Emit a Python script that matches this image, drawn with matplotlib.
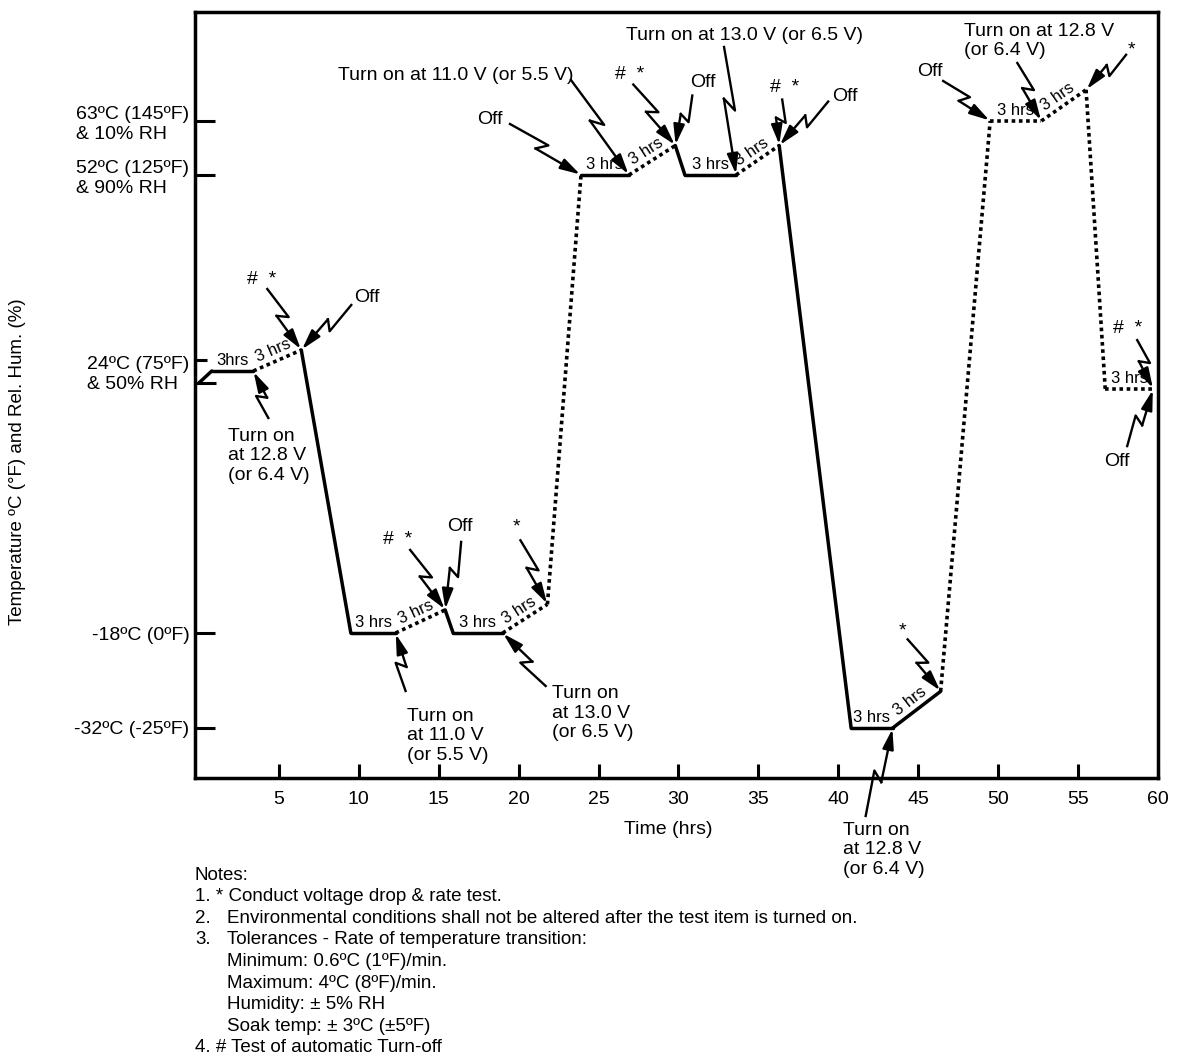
import numpy as np
import matplotlib
import matplotlib.pyplot as plt
from matplotlib.lines import Line2D
from matplotlib.transforms import IdentityTransform

plt.rcParams['font.family'] = ['Liberation Sans', 'DejaVu Sans']
plt.rcParams['font.size'] = 14

# test profile: time (hrs) and temperature (degC) at each corner
time_hrs = [0.0, 0.8, 3.4, 6.4, 9.5, 12.3, 15.4, 15.9, 19.0, 21.8, 23.9, 26.9,
            29.8, 30.4, 33.6, 36.3, 40.8, 43.4, 46.4, 49.5, 52.7, 55.5, 56.7, 59.7]
temp_c = [22.1, 24, 24, 27, -18, -18, -14.3, -18, -18, -13.4, 52, 52,
          58, 52, 52, 58, -32, -32, -26.6, 63, 63, 69.3, 21.1, 21.1]
# 1 = dotted (power off / transition), 0 = solid
seg_dotted = [0, 0, 1, 0, 0, 1, 0, 0, 1, 1, 0, 1, 0, 0, 1, 0, 0, 0, 1, 1, 1, 1, 1]
seg_label = ['', '3hrs', '3 hrs', '', '3 hrs', '3 hrs', '', '3 hrs', '3 hrs', '',
             '3 hrs', '3 hrs', '', '3 hrs', '3 hrs', '', '3 hrs', '3 hrs', '',
             '3 hrs', '3 hrs', '', '3 hrs']

level_temps = [-32, -18, 24, 52, 63]
level_labels = ['-32ºC (-25ºF)', '-18ºC (0ºF)', '24ºC (75ºF)\n& 50% RH',
                '52ºC (125ºF)\n& 90% RH', '63ºC (145ºF)\n& 10% RH']
x_ticks = [5, 10, 15, 20, 25, 30, 35, 40, 45, 50, 55, 60]

# callouts: vertex, text, text offset (px), bolt start offset (px), alignment
callouts = [
    (3, '#  *', (-40, 71), (-34, 61), 'center'),
    (3, 'Off', (66, 53), (50, 45), 'center'),
    (2, 'Turn on\nat 12.8 V\n(or 6.4 V)', (-25, -85), (15, -47), 'left'),
    (6, '#  *', (-48, 70), (-35, 60), 'center'),
    (6, 'Off', (15, 83), (16, 68), 'center'),
    (5, 'Turn on\nat 11.0 V\n(or 5.5 V)', (11, -103), (10, -58), 'left'),
    (9, '*', (-31, 77), (-27, 64), 'center'),
    (8, 'Turn on\nat 13.0 V\n(or 6.5 V)', (49, -80), (43, -53), 'left'),
    (10, 'Off', (-91, 55), (-71, 51), 'center'),
    (11, 'Turn on at 11.0 V (or 5.5 V)', (-55, 100), (-58, 95), 'right'),
    (12, '#  *', (-46, 71), (-42, 61), 'center'),
    (12, 'Off', (28, 63), (17, 50), 'center'),
    (14, 'Turn on at 13.0 V (or 6.5 V)', (8, 140), (-12, 128), 'center'),
    (15, '#  *', (5, 58), (3, 46), 'center'),
    (15, 'Off', (66, 49), (49, 44), 'center'),
    (18, '*', (-38, 60), (-33, 52), 'center'),
    (17, 'Turn on\nat 12.8 V\n(or 6.4 V)', (-50, -122), (-27, -88), 'left'),
    (19, 'Off', (-60, 49), (-47, 40), 'center'),
    (20, 'Turn on at 12.8 V\n(or 6.4 V)', (-77, 80), (-24, 58), 'left'),
    (21, '*', (45, 40), (40, 35), 'center'),
    (23, '#  *', (-26, 61), (-16, 49), 'center'),
    (23, 'Off', (-36, -72), (-26, -57), 'center'),
]

notes_num = ['Notes:', '1. * Conduct voltage drop & rate test.', '2.', '3.', '', '', '', '',
             '4. # Test of automatic Turn-off']
notes_body = ['', '', 'Environmental conditions shall not be altered after the test item is turned on.',
              'Tolerances - Rate of temperature transition:', 'Minimum: 0.6ºC (1ºF)/min.',
              'Maximum: 4ºC (8ºF)/min.', 'Humidity: ± 5% RH', 'Soak temp: ± 3ºC (±5ºF)', '']

W, H = 1178, 1061
fig = plt.figure(figsize=(W / 100, H / 100), dpi=100)
ax = fig.add_axes([195 / W, 1 - 778 / H, (1158 - 195) / W, (778 - 12) / H])

# the y axis of the drawing is schematic, not linear in temperature
anch_t = [-39.4, -32, -18, 24, 52, 63, 85]
anch_p = [283, 333, 428, 690, 886, 940, 1049]


def fwd(v):
    return np.interp(v, anch_t, anch_p)


def inv(p):
    return np.interp(p, anch_p, anch_t)


ax.set_yscale('function', functions=(fwd, inv))
ax.set_xlim(-0.25, 59.86)
ax.set_ylim(-39.4, 85)

for s in ax.spines.values():
    s.set_linewidth(2.5)

ax.set_xticks(x_ticks)
ax.tick_params(axis='x', direction='in', length=10, width=2.2, pad=9, labelsize=14)
ax.set_yticks(level_temps, level_labels, multialignment='left')
ax.tick_params(axis='y', which='major', direction='in', length=14.5, width=2.2, pad=4, labelsize=14)
ax.yaxis.get_major_ticks()[2].tick1line.set_visible(False)
ax.set_yticks([22.1, 25.6], minor=True)
ax.tick_params(axis='y', which='minor', direction='in', length=15, width=2.2)
mt = ax.yaxis.get_minor_ticks()
mt[0].tick1line.set_markersize(15)
mt[1].tick1line.set_markersize(8.5)

for i in range(len(time_hrs) - 1):
    if seg_dotted[i]:
        ax.plot(time_hrs[i:i + 2], temp_c[i:i + 2], color='black', lw=2.6,
                ls=(0, (1, 1)), dash_capstyle='butt')
    else:
        ax.plot(time_hrs[i:i + 2], temp_c[i:i + 2], color='black', lw=2.5,
                solid_capstyle='round')

# "3 hrs" labels along segments
for i, lbl in enumerate(seg_label):
    if not lbl:
        continue
    p0 = ax.transData.transform((time_hrs[i], temp_c[i]))
    p1 = ax.transData.transform((time_hrs[i + 1], temp_c[i + 1]))
    ang = np.degrees(np.arctan2(p1[1] - p0[1], p1[0] - p0[0]))
    mid = (p0 + p1) / 2
    nx, ny = -np.sin(np.radians(ang)), np.cos(np.radians(ang))
    ax.annotate(lbl, xy=mid, xycoords='figure pixels', xytext=(nx * 3, ny * 3),
                textcoords='offset pixels', rotation=ang, rotation_mode='anchor',
                ha='center', va='bottom', fontsize=12)

# callouts with lightning arrows
for vi, txt, toff, boff, ha in callouts:
    v = ax.transData.transform((time_hrs[vi], temp_c[vi]))
    ax.annotate(txt, xy=v, xycoords='figure pixels', xytext=toff, textcoords='offset pixels',
                ha=ha, va='center', multialignment='left', fontsize=14)
    s = np.array(boff, dtype=float)
    d = -s
    L = np.hypot(*d)
    u = d / L
    n = np.array([-u[1], u[0]])
    p1 = s + u * 0.50 * L + n * 5
    p2 = s + u * 0.40 * L - n * 5
    tip = -u * 1.0
    pts = np.array([s, p1, p2]) + v
    fig.add_artist(Line2D(pts[:, 0], pts[:, 1], color='black', lw=1.7,
                          transform=IdentityTransform()))
    ax.annotate('', xy=tip + v, xycoords='figure pixels', xytext=p2 + v,
                textcoords='figure pixels',
                arrowprops=dict(arrowstyle='-|>,head_length=1.0,head_width=0.28',
                                color='black', lw=1.7, shrinkA=0, shrinkB=0,
                                mutation_scale=12))

fig.text(668 / W, 1 - 829 / H, 'Time (hrs)', ha='center', va='center', fontsize=14)
fig.text(18 / W, 1 - 462 / H, 'Temperature ºC (°F) and Rel. Hum. (%)', rotation=90,
         ha='center', va='center', fontsize=13.5)

for i, (a, b) in enumerate(zip(notes_num, notes_body)):
    y = 1 - (875 + 21.6 * i) / H
    if a:
        fig.text(195 / W, y, a, ha='left', va='center', fontsize=13.5)
    if b:
        fig.text(227 / W, y, b, ha='left', va='center', fontsize=13.5)

fig.savefig('out.png', dpi=100)
